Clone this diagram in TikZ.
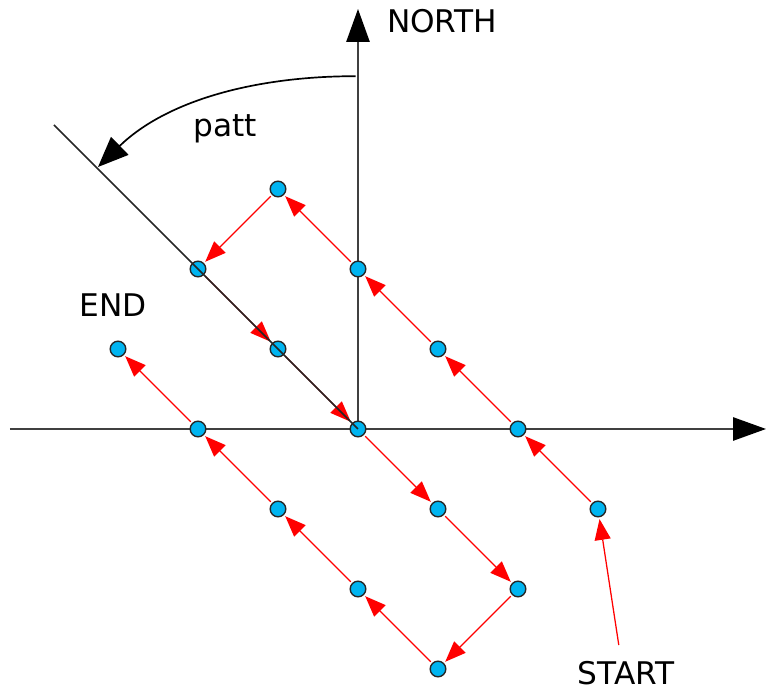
\documentclass[tikz,border=0pt]{standalone}
\usepackage{fontspec}
\setmainfont{DejaVu Sans}
\usetikzlibrary{arrows.meta}
\definecolor{wpcyan}{HTML}{00B4F0}
\definecolor{hopred}{HTML}{FF0000}

\begin{document}
\begin{tikzpicture}[
  wp/.style={circle, draw=black!85, fill=wpcyan, line width=0.5pt,
    minimum size=1.95mm, inner sep=0pt, outer sep=0.3mm},
  hop/.style={-{Triangle[length=2.6mm, width=2mm]}, color=hopred,
    line width=0.45pt},
  axis/.style={-{Triangle[length=4.1mm, width=2.9mm, fill=black, color=black]},
    draw=black!75, line width=0.6pt},
  lbl/.style={font=\fontsize{11.1}{13}\selectfont, anchor=base}
]
  \useasboundingbox (-4.475,-3.3) rectangle (5.1,5.3625);
  % axes
  \coordinate (west)  at (-4.35,0);
  \coordinate (east)  at (5.1,0);
  \coordinate (north) at (0,5.25);
  \coordinate (o)     at (0,0);
  \draw[axis] (west) -- (east);
  \draw[axis] (o) -- (north);
  % angle patt
  \coordinate (a0) at (-0.03,4.41);
  \coordinate (a1) at (-3.25,3.275);
  \draw[line width=0.6pt, -{Triangle[length=3.8mm, width=3.1mm]}]
    (a0) .. controls (-1.3,4.41) and (-2.4,4.1) .. (a1);
  % waypoints
  \node[wp] (p1)  at (3,-1)  {};
  \node[wp] (p2)  at (2,0)   {};
  \node[wp] (p3)  at (1,1)   {};
  \node[wp] (p4)  at (0,2)   {};
  \node[wp] (p5)  at (-1,3)  {};
  \node[wp] (p6)  at (-2,2)  {};
  \node[wp] (p7)  at (-1,1)  {};
  \node[wp] (p8)  at (0,0)   {};
  \node[wp] (p9)  at (1,-1)  {};
  \node[wp] (p10) at (2,-2)  {};
  \node[wp] (p11) at (1,-3)  {};
  \node[wp] (p12) at (0,-2)  {};
  \node[wp] (p13) at (-1,-1) {};
  \node[wp] (p14) at (-2,0)  {};
  \node[wp] (p15) at (-3,1)  {};
  \foreach \a/\b in {p1/p2, p2/p3, p3/p4, p4/p5, p5/p6, p6/p7, p7/p8,
                     p8/p9, p9/p10, p10/p11, p11/p12, p12/p13, p13/p14, p14/p15}
    \draw[hop] (\a) -- (\b);
  % patt direction
  \coordinate (pattend) at (-3.8,3.8);
  \draw[black!85, line width=0.6pt] (pattend) -- (p8.center);
  % labels
  \node[lbl] (northlbl) at (1.05,4.96)  {NORTH};
  \node[lbl] (pattlbl)  at (-1.66,3.65) {patt};
  \node[lbl] (endlbl)   at (-3.06,1.40) {END};
  \node[lbl] (startlbl) at (3.35,-3.2)  {START};
  \coordinate (s0) at (3.26,-2.7);
  \draw[hop] (s0) -- (p1);
\end{tikzpicture}
\end{document}
